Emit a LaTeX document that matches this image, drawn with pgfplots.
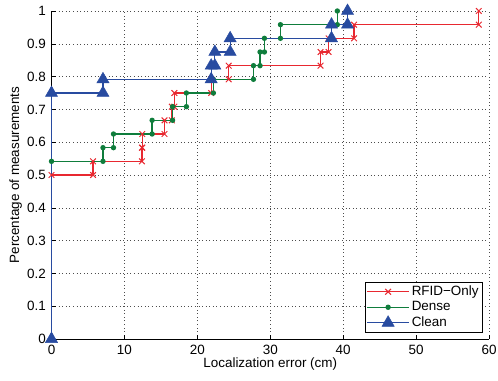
\documentclass[border=0pt]{standalone}
\usepackage{fontspec}
\setmainfont{Liberation Sans}
\usepackage{pgfplots}
\pgfplotsset{compat=1.18}
\definecolor{cred}{RGB}{232,40,48}
\definecolor{cgreen}{RGB}{15,125,60}
\definecolor{cblue}{RGB}{40,75,160}
\begin{document}
\fontsize{13.5}{16}\selectfont
\begin{tikzpicture}
\begin{axis}[
  name=ax,
  scale only axis,
  width=437.5bp, height=328bp,
  xmin=0, xmax=60, ymin=0, ymax=1,
  xtick={0,10,...,60},
  ytick={0,0.1,...,1.0},
  yticklabels={0,0.1,0.2,0.3,0.4,0.5,0.6,0.7,0.8,0.9,1},
  axis x line*=bottom, axis y line*=left,
  axis line style={-, black, line width=0.6pt},
  tick style={black, line width=0.5pt},
  tick align=inside,
  major tick length=4bp,
  grid=major,
  major grid style={black!70, line width=0.5pt, dash pattern=on 0.6pt off 3pt},
  /pgf/number format/assume math mode=true,
  ticklabel style={font=\fontsize{13.5}{16}\selectfont},
  xticklabel style={yshift=-1bp},
  yticklabel style={xshift=-1bp},
  xlabel={Localization error (cm)},
  ylabel={Percentage of measurements},
  label style={font=\fontsize{13.5}{16}\selectfont},
  xlabel style={yshift=6bp},
  ylabel style={yshift=-4bp},
  clip=false,
  legend cell align=left,
  legend style={at={(0.985,0.02)}, anchor=south east, draw=black, fill=white,
    font=\fontsize{13.5}{15}\selectfont, line width=0.6pt, inner sep=1.5bp, row sep=0bp},
  legend image code/.code={
    \draw[#1] (0bp,0bp) -- (42bp,0bp);
    \draw[#1, mark repeat=2, mark phase=2] plot coordinates {(0bp,0bp) (21bp,0bp) (42bp,0bp)};
  },
]
\addplot[color=cred, line width=1.3pt, mark=x, mark size=4bp, mark options={line width=1pt}] coordinates {
(0,0.5) (5.7,0.5) (5.7,0.5417) (12.4,0.5417) (12.4,0.5833) (12.45,0.5833) (12.45,0.625)
(15.5,0.625) (15.5,0.6667) (16.5,0.6667) (16.5,0.7083) (16.85,0.7083) (16.85,0.75)
(21.9,0.75) (21.9,0.7917) (24.3,0.7917) (24.3,0.8333) (36.9,0.8333) (36.9,0.875)
(38.0,0.875) (38.0,0.9167) (41.5,0.9167) (41.5,0.9583) (58.6,0.9583) (58.6,1)
};
\addlegendentry{RFID−Only}
\addplot[color=cgreen, line width=1.3pt, mark=*, mark size=2bp] coordinates {
(0,0.5417) (7.06,0.5417) (7.06,0.5833) (8.5,0.5833) (8.5,0.625) (13.8,0.625) (13.8,0.6667)
(16.6,0.6667) (16.6,0.7083) (18.5,0.7083) (18.5,0.75) (22.2,0.75) (22.2,0.7917)
(27.7,0.7917) (27.7,0.8333) (28.6,0.8333) (28.6,0.875) (29.2,0.875) (29.2,0.9167)
(31.4,0.9167) (31.4,0.9583) (39.2,0.9583) (39.2,1)
};
\addlegendentry{Dense}
\addplot[color=cblue, line width=1.3pt, mark=triangle*, mark size=7bp, mark options={line width=0.5pt}] coordinates {
(0,0) (0,0.75) (7.06,0.75) (7.06,0.7917) (21.9,0.7917) (21.9,0.8333) (22.4,0.8333)
(22.4,0.875) (24.5,0.875) (24.5,0.9167) (38.4,0.9167) (38.4,0.9583) (40.6,0.9583) (40.6,1)
};
\addlegendentry{Clean}
\end{axis}
\pgfresetboundingbox
\path[use as bounding box] ([shift={(-51.5bp,-41bp)}]ax.south west) rectangle ([shift={(9bp,11bp)}]ax.north east);
\end{tikzpicture}
\end{document}
